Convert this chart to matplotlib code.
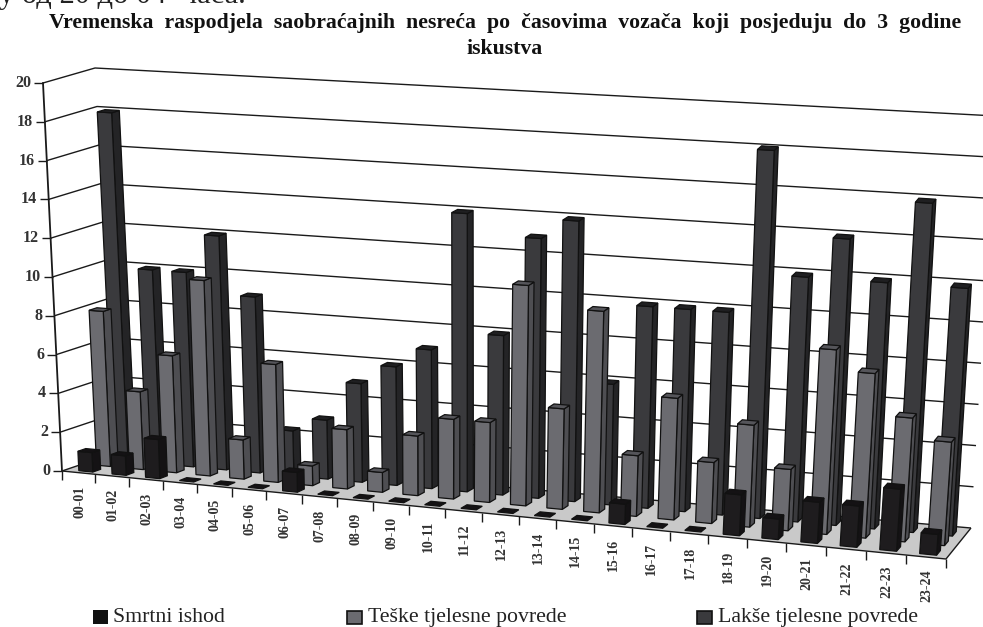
import matplotlib
matplotlib.use("Agg")
import matplotlib.pyplot as plt
from matplotlib.patches import Polygon

plt.rcParams["font.family"] = ["Liberation Serif", "DejaVu Serif"]

HOURS = ["00-01", "01-02", "02-03", "03-04", "04-05", "05-06", "06-07", "07-08",
         "08-09", "09-10", "10-11", "11-12", "12-13", "13-14", "14-15", "15-16",
         "16-17", "17-18", "18-19", "19-20", "20-21", "21-22", "22-23", "23-24"]
SMRTNI = [1, 1, 2, 0, 0, 0, 1, 0, 0, 0, 0, 0, 0, 0, 0, 1, 0, 0, 2, 1, 2, 2, 3, 1]
TESKE = [8, 4, 6, 10, 2, 6, 1, 3, 1, 3, 4, 4, 11, 5, 10, 3, 6, 3, 5, 3, 9, 8, 6, 5]
LAKSE = [18, 10, 10, 12, 9, 2.3, 3, 5, 6, 7, 14, 8, 13, 14, 6, 10, 10, 10, 18.1, 12, 14, 12, 16, 12]
YTICKS = [0, 2, 4, 6, 8, 10, 12, 14, 16, 18, 20]
YMAX = 20

# corners of the 3d box in figure pixels: (front/back, left/right, bottom/top)
FLB, FLT = (62, 471), (43, 83)
FRB, FRT = (946, 559), (977, 143)
BLB, BLT = (115, 453), (95, 68)
BRB, BRT = (971, 528), (996, 116)

BAR_W = 0.21   # in category steps, half width
BAR_D = 0.075  # in box depth, half depth
COLORS = {
    "black": ("#1e1c1e", "#141214", "#141214"),
    "mid": ("#6b6b70", "#4e4e52", "#55555a"),
    "dark": ("#3a3a3d", "#242426", "#1f1f21"),
}


def warp(u):
    # category spacing grows to the right (perspective)
    return u - 0.1 * u * (1 - u)


def project(cat, depth, val):
    u = warp(cat / len(HOURS))
    w = val / YMAX
    pts = []
    for i in (0, 1):
        fb = FLB[i] + (FRB[i] - FLB[i]) * u
        ft = FLT[i] + (FRT[i] - FLT[i]) * u
        bb = BLB[i] + (BRB[i] - BLB[i]) * u
        bt = BLT[i] + (BRT[i] - BLT[i]) * u
        bot = fb + (bb - fb) * depth
        top = ft + (bt - ft) * depth
        pts.append(bot + (top - bot) * w)
    return pts


def draw_bar(ax, cat, depth, val, cols):
    front, side, top = cols
    # bars sit a bit right of the slot centre, more so at the left end
    c = cat + 0.5 + (0.06 + 0.14 * depth) * (1 - cat / len(HOURS))
    x0, x1 = c - BAR_W, c + BAR_W
    d0, d1 = depth - BAR_D, depth + BAR_D
    lw = 0.9
    if val > 0:
        ax.add_patch(Polygon([project(x1, d0, 0), project(x1, d1, 0), project(x1, d1, val), project(x1, d0, val)],
                             fc=side, ec="#111111", lw=lw, zorder=5))
        ax.add_patch(Polygon([project(x0, d0, 0), project(x1, d0, 0), project(x1, d0, val), project(x0, d0, val)],
                             fc=front, ec="#111111", lw=lw, zorder=5))
    ax.add_patch(Polygon([project(x0, d0, val), project(x1, d0, val), project(x1, d1, val), project(x0, d1, val)],
                         fc=top, ec="#111111", lw=lw, zorder=5))


fig = plt.figure(figsize=(9.83, 6.27), dpi=100)
ax = fig.add_axes([0, 0, 1, 1])
ax.set_xlim(0, 983)
ax.set_ylim(627, 0)
ax.axis("off")

n = len(HOURS)
line = dict(color="#1a1a1a", lw=1.0, zorder=2, solid_capstyle="butt")

# floor
ax.add_patch(Polygon([project(0, 0, 0), project(0, 1, 0), project(n, 1, 0), project(n, 0, 0)],
                     fc="#c9c9c9", ec="none", zorder=1))

# walls: gridlines run along left wall then back wall
for t in YTICKS:
    p0, p1, p2 = project(0, 0, t), project(0, 1, t), project(n, 1, t)
    ax.plot([p0[0], p1[0], p2[0]], [p0[1], p1[1], p2[1]], **line)
    ax.plot([p0[0] - 9, p0[0]], [p0[1], p0[1]], **line)
    ax.text(p0[0] - 12, p0[1], str(t), ha="right", va="center", fontsize=11.5,
            fontweight="bold", color="#333333")

a, b = project(0, 0, 0), project(0, 0, YMAX)
ax.plot([a[0], b[0]], [a[1], b[1]], color="#1a1a1a", lw=1.3, zorder=2)

# front and right floor edges with ticks
a, b, c = project(0, 0, 0), project(n, 0, 0), project(n, 1, 0)
ax.plot([a[0], b[0], c[0]], [a[1], b[1], c[1]], **line)
for i in range(n + 1):
    p = project(i, 0, 0)
    ax.plot([p[0], p[0]], [p[1], p[1] + 9], **line)

for i, lab in enumerate(HOURS):
    p = project(i + 0.5, 0, 0)
    ax.text(p[0] + 1, p[1] + 13, lab, rotation=90, ha="center", va="top", fontsize=10,
            fontweight="bold", color="#333333")

# back to front, like the spreadsheet does it
for i, v in enumerate(LAKSE):
    draw_bar(ax, i, 0.78, v, COLORS["dark"])
for i, v in enumerate(TESKE):
    draw_bar(ax, i, 0.47, v, COLORS["mid"])
for i, v in enumerate(SMRTNI):
    draw_bar(ax, i, 0.16, v, COLORS["black"])

# cropped line of the surrounding page
ax.text(-1, 3.5, "у од 20 до 04  часа.", fontsize=22, ha="left", va="baseline", color="#222222")

ax.text(505, 28, "Vremenska  raspodjela  saobraćajnih  nesreća  po  časovima  vozača  koji  posjeduju  do  3  godine",
        fontsize=15.7, fontweight="bold", ha="center", va="baseline", color="#111111")
ax.text(505, 54, "iskustva", fontsize=15.7, fontweight="bold", ha="center", va="baseline", color="#111111")

# legend
ax.add_patch(Polygon([(93, 610), (108, 610), (108, 624), (93, 624)], fc="#111111", ec="none"))
ax.add_patch(Polygon([(347, 611), (362, 611), (362, 624), (347, 624)], fc="#6b6b70", ec="#111111", lw=1.2))
ax.add_patch(Polygon([(697, 611), (712, 611), (712, 624), (697, 624)], fc="#3a3a3d", ec="#111111", lw=1.2))
ax.text(113, 622, "Smrtni ishod", fontsize=15.7, va="baseline", color="#222222")
ax.text(368, 622, "Teške tjelesne povrede", fontsize=15.7, va="baseline", color="#222222")
ax.text(718, 622, "Lakše tjelesne povrede", fontsize=15.7, va="baseline", color="#222222")

fig.savefig("out.png", dpi=100)
